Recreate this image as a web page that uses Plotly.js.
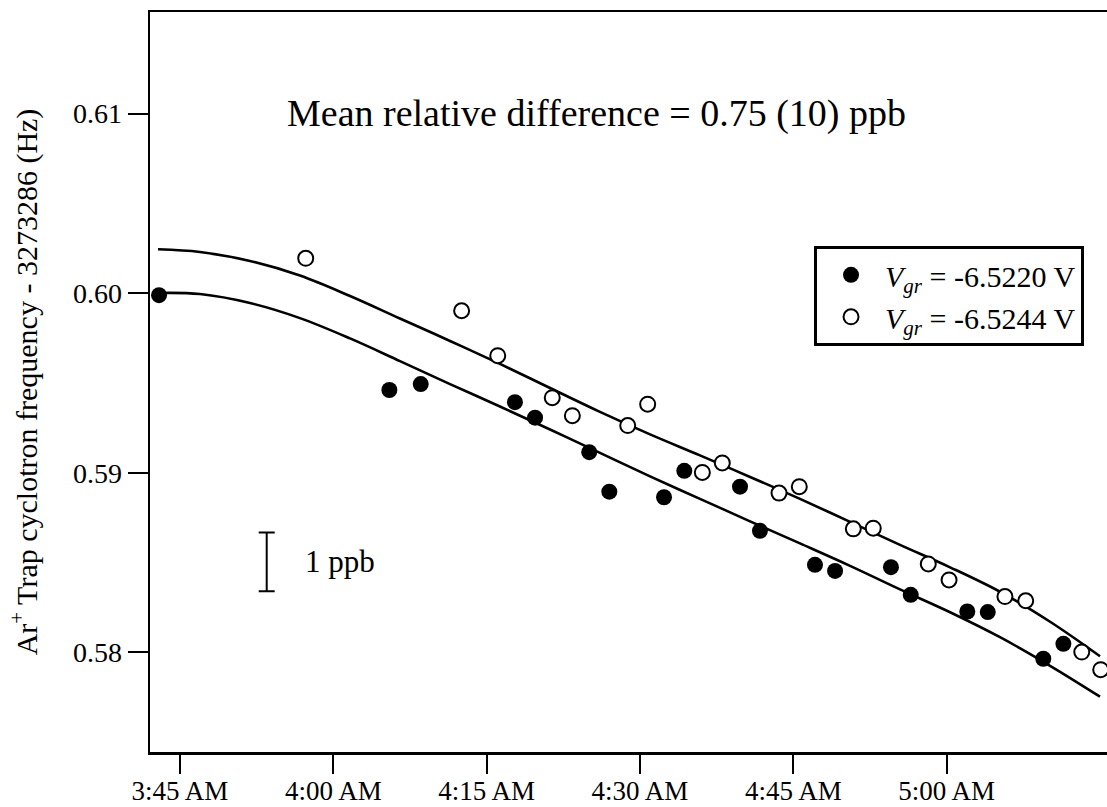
<!DOCTYPE html>
<html>
<head>
<meta charset="utf-8">
<script src="https://cdn.plot.ly/plotly-3.0.1.min.js"></script>
<style>
  html, body { margin: 0; padding: 0; background: #fff; }
  #chart { width: 1107px; height: 807px; }
</style>
</head>
<body>
<div id="chart"></div>
<script>
// ---- data (times are clock times on the measurement night) ----
const DAY = '2000-01-01 ';
const FREQ_OFFSET = 3273286; // Hz subtracted from the cyclotron frequency

// V_gr = -6.5220 V (filled circles)
const filledTimes = ['03:42:57','04:05:29','04:08:33','04:17:46','04:19:44','04:25:02','04:27:00',
  '04:32:21','04:34:20','04:39:47','04:41:44','04:47:07','04:49:05','04:54:33','04:56:29',
  '05:02:01','05:04:01','05:09:27','05:11:25'];
const filledValues = [0.59989,0.59461,0.59494,0.59393,0.59307,0.59115,0.58895,
  0.58864,0.59011,0.58923,0.58677,0.58488,0.58454,0.58475,0.58321,
  0.58228,0.58225,0.57965,0.58048];

// V_gr = -6.5244 V (open circles)
const openTimes = ['03:57:18','04:12:33','04:16:05','04:21:25','04:23:23','04:28:48','04:30:45',
  '04:36:06','04:38:03','04:43:36','04:45:35','04:50:52','04:52:49','04:58:12','05:00:14',
  '05:05:42','05:07:44','05:13:13','05:15:04'];
const openValues = [0.60194,0.59902,0.59652,0.59418,0.59318,0.59263,0.59382,
  0.59002,0.59055,0.58887,0.58923,0.58688,0.58692,0.58493,0.58404,
  0.58311,0.58288,0.58002,0.57904];

// fitted curves
const fitOpenTimes = ['03:42:51','03:46:57','03:51:51','03:56:44','04:01:38','04:06:31','04:11:25',
  '04:16:18','04:21:12','04:26:05','04:30:59','04:35:52','04:40:46','04:45:39','04:50:33',
  '04:55:26','05:00:20','05:05:13','05:10:07','05:15:00'];
const fitOpenValues = [0.60244,0.60229,0.60179,0.60098,0.59984,0.59859,0.59734,
  0.59606,0.59472,0.59339,0.59214,0.59097,0.58977,0.58855,0.58727,
  0.58599,0.58474,0.58338,0.58171,0.57979];

const fitFilledTimes = ['03:42:57','03:46:57','03:51:51','03:56:44','04:01:38','04:06:31','04:11:25',
  '04:16:18','04:21:12','04:26:05','04:30:59','04:35:52','04:40:46','04:45:39','04:50:33',
  '04:55:26','05:00:20','05:05:13','05:10:07','05:15:00'];
const fitFilledValues = [0.60001,0.59995,0.59945,0.59861,0.59748,0.59622,0.59494,
  0.59369,0.59241,0.59111,0.58980,0.58855,0.58730,0.58607,0.58482,
  0.58351,0.58224,0.58085,0.57926,0.57754];

// 1 ppb scale bar
const scaleBarTime = ['03:53:29'];
const scaleBarCenter = [0.585044];
const scaleBarHalf = [FREQ_OFFSET * 1e-9 / 2];

// axes
const xTickTimes = ['03:45:00','04:00:00','04:15:00','04:30:00','04:45:00','05:00:00'];
const xTickText = ['3:45 AM','4:00 AM','4:15 AM','4:30 AM','4:45 AM','5:00 AM'];
const yTickVals = [0.58, 0.59, 0.60, 0.61];
const yTickText = ['0.58', '0.59', '0.60', '0.61'];
const xRange = ['03:42:04', '05:15:41'];
const yRange = [0.57446, 0.61565];

const d = a => a.map(t => DAY + t);
const FONT = 'Liberation Serif, Times New Roman, serif';

const curveLine = {color: 'black', width: 2.6, shape: 'spline', smoothing: 1};
const traces = [
  { x: d(fitOpenTimes), y: fitOpenValues, mode: 'lines', line: curveLine, showlegend: false, hoverinfo: 'skip' },
  { x: d(fitFilledTimes), y: fitFilledValues, mode: 'lines', line: curveLine, showlegend: false, hoverinfo: 'skip' },
  { x: d(filledTimes), y: filledValues, mode: 'markers', name: '<i>V</i><sub><i>gr</i></sub> = -6.5220 V',
    marker: {symbol: 'circle', size: 16, color: 'black', line: {color: 'black', width: 0}} },
  { x: d(openTimes), y: openValues, mode: 'markers', name: '<i>V</i><sub><i>gr</i></sub> = -6.5244 V',
    marker: {symbol: 'circle', size: 15, color: 'white', line: {color: 'black', width: 2}} },
  { x: d(scaleBarTime), y: scaleBarCenter, mode: 'markers', showlegend: false, hoverinfo: 'skip',
    marker: {size: 1, color: 'rgba(0,0,0,0)'},
    error_y: {type: 'data', array: scaleBarHalf, symmetric: true, color: 'black', thickness: 2, width: 8} }
];

const layout = {
  width: 1107, height: 807,
  margin: {l: 150, r: 0, t: 12, b: 55},
  paper_bgcolor: 'white', plot_bgcolor: 'white',
  font: {family: FONT, size: 28, color: 'black'},
  showlegend: true,
  legend: {
    x: 0.976, xanchor: 'right', y: 0.684, yanchor: 'top',
    bordercolor: 'black', borderwidth: 3, bgcolor: 'white',
    font: {family: FONT, size: 30, color: 'black'},
    tracegroupgap: 0, itemwidth: 58
  },
  xaxis: {
    type: 'date', range: d(xRange),
    tickvals: d(xTickTimes), ticktext: xTickText,
    ticks: 'outside', ticklen: 19, tickwidth: 2, tickcolor: 'black',
    showline: true, linecolor: 'black', linewidth: 2.5, mirror: true,
    showgrid: false, zeroline: false,
    tickfont: {family: FONT, size: 27, color: 'black'},
    ticklabelstandoff: -6
  },
  yaxis: {
    range: yRange,
    tickvals: yTickVals, ticktext: yTickText,
    ticks: 'outside', ticklen: 20, tickwidth: 2, tickcolor: 'black',
    showline: true, linecolor: 'black', linewidth: 2.5, mirror: false,
    showgrid: false, zeroline: false,
    tickfont: {family: FONT, size: 28, color: 'black'},
    title: {text: 'Ar<sup>+</sup> Trap cyclotron frequency - 3273286 (Hz)', font: {family: FONT, size: 30, color: 'black'}, standoff: 27}
  },
  annotations: [
    { xref: 'paper', yref: 'y', x: 0.467, y: 0.61, text: 'Mean relative difference = 0.75 (10) ppb',
      showarrow: false, xanchor: 'center', yanchor: 'middle', font: {family: FONT, size: 38, color: 'black'} },
    { xref: 'x', yref: 'y', x: DAY + '03:57:02', y: scaleBarCenter[0], text: '1 ppb',
      showarrow: false, xanchor: 'left', yanchor: 'middle', font: {family: FONT, size: 31, color: 'black'} }
  ]
};

Plotly.newPlot('chart', traces, layout, {displayModeBar: false, staticPlot: true});
</script>
</body>
</html>
